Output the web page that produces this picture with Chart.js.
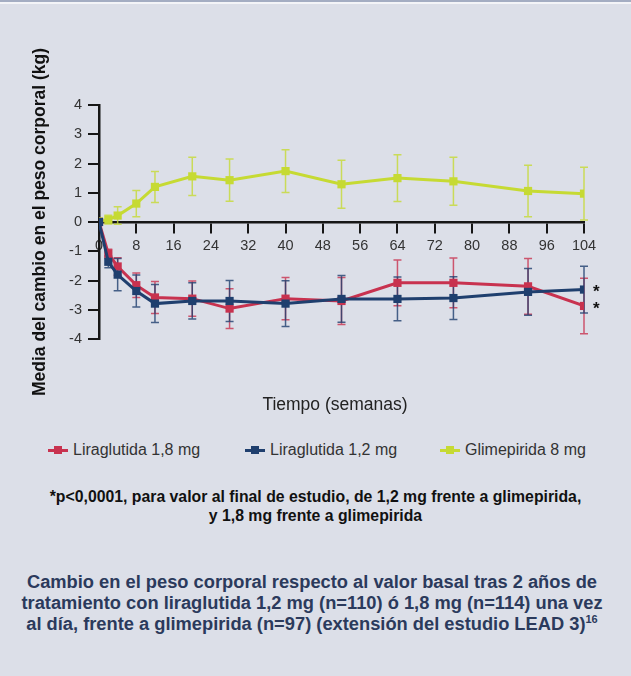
<!DOCTYPE html>
<html lang="es">
<head>
<meta charset="utf-8">
<title>Cambio en el peso corporal – LEAD 3</title>
<script src="https://cdn.jsdelivr.net/npm/chart.js@4.4.1/dist/chart.umd.min.js"></script>
<style>
  html, body { margin: 0; padding: 0; }
  body {
    width: 631px; height: 676px; position: relative; overflow: hidden;
    background: #dcdfe8;
    font-family: "Liberation Sans", Arial, sans-serif;
  }
  .topline { position: absolute; left: 0; top: 0; width: 631px; height: 2px; background: #a4adc2; }
  .topline2 { position: absolute; left: 0; top: 2px; width: 631px; height: 2px; background: #f3f4f7; }
  #wrap { position: absolute; left: 0; top: 0; width: 631px; height: 430px; }
  .xtitle {
    position: absolute; left: 0; width: 670px; top: 393px;
    text-align: center; font-size: 17.5px; color: #222; line-height: 22px;
  }
  .legend { position: absolute; top: 440px; left: 0; width: 631px; height: 20px; font-size: 16px; color: #333; }
  .legend .item { position: absolute; top: 0; display: flex; align-items: center; height: 20px; white-space: nowrap; }
  .legend .mk { position: relative; width: 20px; height: 20px; margin-right: 5px; }
  .legend .mk::before { content: ""; position: absolute; left: 0; top: 8.5px; width: 20px; height: 3px; background: var(--c); }
  .legend .mk::after { content: ""; position: absolute; left: 6px; top: 6px; width: 8px; height: 8px; background: var(--c); }
  .note {
    position: absolute; left: 0; width: 631px; top: 487px;
    text-align: center; font-size: 15.8px; font-weight: bold; color: #111; line-height: 19px;
  }
  .caption {
    position: absolute; left: 0; width: 624px; top: 571px;
    text-align: center; font-size: 18.3px; font-weight: bold; color: #2b3a5c; line-height: 21px;
  }
  .caption sup { font-size: 11px; line-height: 0; vertical-align: 7px; }
</style>
</head>
<body>
<div class="topline"></div>
<div class="topline2"></div>
<div id="wrap"><canvas id="chart" width="631" height="430"></canvas></div>
<div class="xtitle">Tiempo (semanas)</div>
<div class="legend">
  <div class="item" style="left:48px"><span class="mk" style="--c:#c8324f"></span>Liraglutida 1,8 mg</div>
  <div class="item" style="left:245px"><span class="mk" style="--c:#1f3f6e"></span>Liraglutida 1,2 mg</div>
  <div class="item" style="left:440px"><span class="mk" style="--c:#c6da33"></span>Glimepirida 8 mg</div>
</div>
<div class="note">*p&lt;0,0001, para valor al final de estudio, de 1,2 mg frente a glimepirida,<br>y 1,8 mg frente a glimepirida</div>
<div class="caption">Cambio en el peso corporal respecto al valor basal tras 2 años de<br>tratamiento con liraglutida 1,2 mg (n=110) ó 1,8 mg (n=114) una vez<br>al día, frente a glimepirida (n=97) (extensión del estudio LEAD 3)<sup>16</sup></div>

<script>
// Semanas de tratamiento
const weeks = [0, 2, 4, 8, 12, 20, 28, 40, 52, 64, 76, 92, 104];

// Cambio medio del peso corporal (kg) y su barra de error
const lira18 = [0, -1.08, -1.52, -2.16, -2.58, -2.62, -2.96, -2.62, -2.70, -2.08, -2.08, -2.20, -2.87];
const lira18Err = [0, 0.15, 0.30, 0.42, 0.55, 0.60, 0.68, 0.72, 0.80, 0.78, 0.85, 0.95, 0.95];

const lira12 = [0, -1.36, -1.80, -2.36, -2.79, -2.70, -2.70, -2.79, -2.63, -2.63, -2.60, -2.39, -2.31];
const lira12Err = [0, 0.20, 0.55, 0.55, 0.65, 0.62, 0.70, 0.78, 0.80, 0.75, 0.73, 0.80, 0.80];

const glim8 = [0.02, 0.08, 0.22, 0.63, 1.20, 1.56, 1.43, 1.74, 1.29, 1.50, 1.39, 1.06, 0.97];
const glim8Err = [0, 0.15, 0.30, 0.45, 0.53, 0.65, 0.72, 0.73, 0.82, 0.80, 0.82, 0.88, 0.90];

// Series marcadas como significativas al final del estudio
const significant = ['Liraglutida 1,8 mg', 'Liraglutida 1,2 mg'];

const xTicks = { min: 0, max: 104, step: 8 };
const yTicks = { min: -4, max: 4, step: 1 };

const RED = '#c8324f', BLUE = '#1f3f6e', GREEN = '#c6da33';

function pts(vals) { return weeks.map((w, i) => ({ x: w, y: vals[i] })); }

function series(label, vals, errs, color, order) {
  return {
    label, data: pts(vals), errors: errs,
    borderColor: color, backgroundColor: color,
    borderWidth: 3, pointStyle: 'rect', pointRadius: 5.8,
    pointBorderWidth: 0, tension: 0, order
  };
}

// Barras de error verticales con remates
const errorBars = {
  id: 'errorBars',
  beforeDatasetsDraw(chart) {
    const { ctx, scales: { x, y } } = chart;
    ctx.save();
    chart.data.datasets.forEach(ds => {
      ctx.strokeStyle = ds.borderColor;
      ctx.globalAlpha = 0.8;
      ctx.lineWidth = 1.5;
      ds.data.forEach((p, j) => {
        const e = ds.errors[j];
        if (!e) return;
        const px = x.getPixelForValue(p.x);
        const t = y.getPixelForValue(p.y + e);
        const b = y.getPixelForValue(p.y - e);
        ctx.beginPath();
        ctx.moveTo(px, t); ctx.lineTo(px, b);
        ctx.moveTo(px - 4, t); ctx.lineTo(px + 4, t);
        ctx.moveTo(px - 4, b); ctx.lineTo(px + 4, b);
        ctx.stroke();
      });
    });
    ctx.restore();
  }
};

// Asterisco tras el último punto de las series significativas
const starMarks = {
  id: 'starMarks',
  afterDatasetsDraw(chart) {
    const { ctx, scales: { x, y } } = chart;
    ctx.save();
    ctx.fillStyle = '#111';
    ctx.font = 'bold 17px "Liberation Sans", Arial, sans-serif';
    ctx.textAlign = 'left';
    ctx.textBaseline = 'middle';
    chart.data.datasets.forEach(ds => {
      if (!significant.includes(ds.label)) return;
      const last = ds.data[ds.data.length - 1];
      ctx.fillText('*', x.getPixelForValue(last.x) + 9, y.getPixelForValue(last.y) + 3);
    });
    ctx.restore();
  }
};

const axisColor = '#161616';
const tickFont = { family: '"Liberation Sans", Arial, sans-serif', size: 14.5 };

new Chart(document.getElementById('chart'), {
  type: 'line',
  data: {
    datasets: [
      series('Liraglutida 1,8 mg', lira18, lira18Err, RED, 1),
      series('Liraglutida 1,2 mg', lira12, lira12Err, BLUE, 0),
      series('Glimepirida 8 mg', glim8, glim8Err, GREEN, 2)
    ]
  },
  options: {
    responsive: false,
    animation: false,
    events: [],
    layout: { padding: { left: 0, right: 47, top: 105, bottom: 91 } },
    plugins: { legend: { display: false }, tooltip: { enabled: false } },
    scales: {
      x: {
        type: 'linear',
        position: { y: 0 },
        min: xTicks.min, max: xTicks.max,
        ticks: { stepSize: xTicks.step, color: '#333', font: tickFont, padding: 5, maxRotation: 0, autoSkip: false },
        grid: { display: true, drawOnChartArea: false, drawTicks: true, tickLength: 10, color: axisColor, lineWidth: 2 },
        border: { display: true, color: axisColor, width: 2.5 }
      },
      y: {
        type: 'linear',
        position: 'left',
        min: yTicks.min, max: yTicks.max,
        afterFit(scale) { scale.width = 99; },
        ticks: { stepSize: yTicks.step, color: '#333', font: tickFont, padding: 6 },
        grid: { display: true, drawOnChartArea: false, drawTicks: true, tickLength: 11, color: axisColor, lineWidth: 2 },
        border: { display: true, color: axisColor, width: 2.5 },
        title: {
          display: true,
          text: 'Media del cambio en el peso corporal (kg)',
          color: '#111',
          font: { family: '"Liberation Sans", Arial, sans-serif', size: 17.5, weight: 'bold' },
          padding: { top: 30, bottom: 0 }
        }
      }
    }
  },
  plugins: [errorBars, starMarks]
});
</script>
</body>
</html>
